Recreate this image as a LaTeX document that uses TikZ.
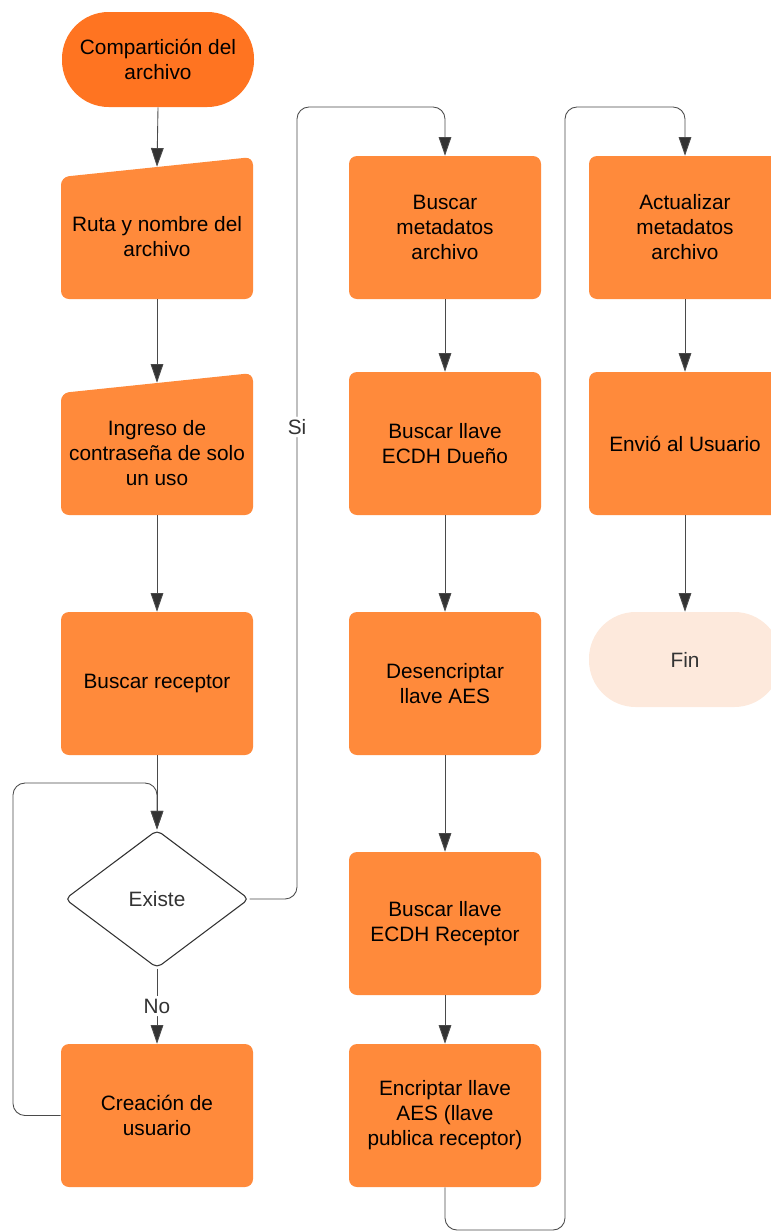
\documentclass[tikz,border=0pt]{standalone}
\usepackage{fontspec}
\setmainfont{Liberation Sans}
\usetikzlibrary{shapes.geometric,arrows.meta}
\definecolor{boxfill}{HTML}{FF8A3B}
\definecolor{startfill}{HTML}{FF7421}
\definecolor{endfill}{HTML}{FDE9DC}
\definecolor{linegray}{HTML}{333333}
\definecolor{wiregray}{HTML}{4A4A4A}
\begin{document}
\begin{tikzpicture}[x=0.75pt,y=-0.75pt,
  font=\fontsize{15.6}{18.75}\selectfont,
  procbox/.style={rectangle,rounded corners=6pt,fill=boxfill,minimum width=144pt,
    minimum height=107.25pt,align=center,inner sep=0pt,text=black},
  inbox/.style={rectangle,minimum width=144pt,minimum height=99pt,inner sep=0pt},
  intext/.style={align=center,inner sep=0pt,text=black,yshift=-3pt},
  termbox/.style={rectangle,rounded corners=35pt,minimum width=144pt,
    minimum height=71.25pt,align=center,inner sep=0pt},
  flow/.style={draw=wiregray,line width=0.65pt,
    -{Triangle[length=14pt,width=9.5pt,fill=linegray]},rounded corners=9pt},
  lbl/.style={fill=white,inner sep=2pt,text=linegray}]

\useasboundingbox (0,0) rectangle (771,1232);
\clip (0,0) rectangle (771,1232);

% ---- first column ----
\node[termbox,fill=startfill,text=black] (start) at (158,59.5) {Compartición del\\archivo};

% manual input shapes (slanted tops)
\fill[boxfill,rounded corners=6pt] (61,177) -- (253,157) -- (253,299) -- (61,299) -- cycle;
\node[inbox,label={[intext]center:{Ruta y nombre del\\archivo}}] (ruta) at (157,233) {};

\fill[boxfill,rounded corners=6pt] (61,393) -- (253,373) -- (253,515) -- (61,515) -- cycle;
\node[inbox,label={[intext]center:{Ingreso de\\contraseña de solo\\un uso}}] (ingreso) at (157,449) {};

\node[procbox] (receptor) at (157,683.5) {Buscar receptor};

\node[diamond,draw=linegray,line width=0.8pt,fill=white,minimum width=138pt,
  minimum height=103.5pt,aspect=1.33,rounded corners=4pt,inner sep=0pt,
  text=linegray] (dec) at (157,899) {Existe};

\node[procbox] (crea) at (157,1115.5) {Creación de\\usuario};

% ---- second column ----
\node[procbox] (meta)  at (445,227.5)  {Buscar\\metadatos\\archivo};
\node[procbox] (duen)  at (445,443.5)  {Buscar llave\\ECDH Dueño};
\node[procbox] (desen) at (445,683.5)  {Desencriptar\\llave AES};
\node[procbox] (brec)  at (445,923.5)  {Buscar llave\\ECDH Receptor};
\node[procbox] (encr)  at (445,1115.5) {Encriptar llave\\AES (llave\\publica receptor)};

% ---- third column ----
\node[procbox] (act)   at (685,227.5) {Actualizar\\metadatos\\archivo};
\node[procbox] (envio) at (685,443.5) {Envió al Usuario};
\node[termbox,fill=endfill,text=linegray] (fin) at (685,659.5) {Fin};

% ---- connectors ----
\draw[flow] (start.south) -- (ruta.north);
\draw[flow] (ruta) -- (ingreso);
\draw[flow] (ingreso) -- (receptor);
\draw[flow] (receptor) -- (dec);
\draw[flow] (dec) -- node[lbl]{No} (crea);
\draw[flow] (crea.west) -- (13,1115.5) -- (13,783) -- (157,783) -- (dec.north);
\draw[flow] (dec.east) -- (297,899) -- node[lbl,pos=0.596]{Si} (297,107) -- (445,107) -- (meta.north);

\draw[flow] (meta) -- (duen);
\draw[flow] (duen) -- (desen);
\draw[flow] (desen) -- (brec);
\draw[flow] (brec) -- (encr);
\draw[flow] (encr.south) -- (445,1230) -- (565,1230) -- (565,107) -- (685,107) -- (act.north);

\draw[flow] (act) -- (envio);
\draw[flow] (envio) -- (fin);
\end{tikzpicture}
\end{document}
